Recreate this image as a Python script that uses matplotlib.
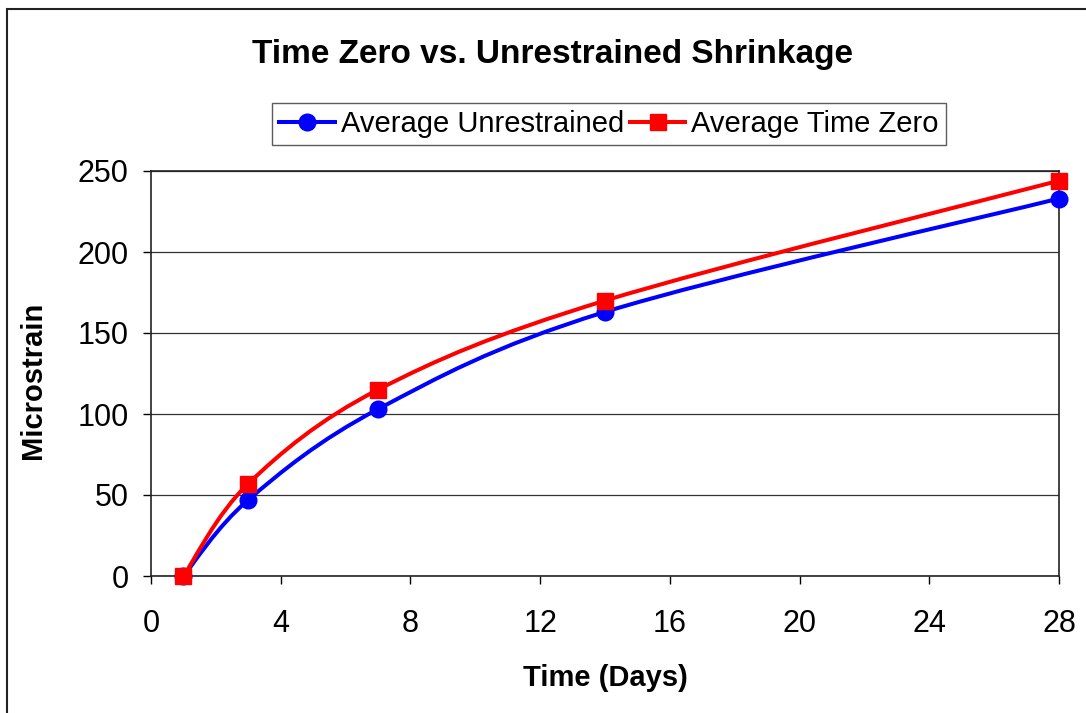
import numpy as np
import matplotlib.pyplot as plt
from matplotlib.path import Path
from matplotlib.patches import PathPatch, Rectangle
from matplotlib.lines import Line2D

plt.rcParams['font.family'] = ['Liberation Sans', 'DejaVu Sans']

##DATA##########################################################################
days = [1, 3, 7, 14, 28]
unrestrained = [0, 47, 103, 163, 233]
time_zero = [0, 57, 115, 170, 244]
xticks = [0, 4, 8, 12, 16, 20, 24, 28]
yticks = [0, 50, 100, 150, 200, 250]
################################################################################


def smooth_path(x, y):
    # excel style smoothed line: bezier segments through the points
    p = np.column_stack([x, y]).astype(float)
    n = len(p)
    verts = [p[0]]
    codes = [Path.MOVETO]
    for i in range(n - 1):
        p0 = p[i - 1] if i > 0 else p[i]
        p3 = p[i + 2] if i + 2 < n else p[i + 1]
        c1 = p[i] + (p[i + 1] - p0) / 6.0
        c2 = p[i + 1] - (p3 - p[i]) / 6.0
        verts += [c1, c2, p[i + 1]]
        codes += [Path.CURVE4] * 3
    return Path(verts, codes)


fig = plt.figure(figsize=(10.86, 7.13), dpi=100)
fig.patches.append(Rectangle((7 / 1086, -0.1), 1.2, 1 - 9 / 713 + 0.1,
                             transform=fig.transFigure, fill=False,
                             edgecolor='#222222', linewidth=1.5))

ax = fig.add_axes([151 / 1086, 137 / 713, 908 / 1086, 405 / 713])

series = [
    (unrestrained, 'blue', 'o', 12, 'Average Unrestrained'),
    (time_zero, 'red', 's', 12, 'Average Time Zero'),
]
handles = []
for vals, col, mk, ms, name in series:
    ax.add_patch(PathPatch(smooth_path(days, vals), facecolor='none',
                           edgecolor=col, linewidth=2.9, zorder=3))
    ax.plot(days, vals, linestyle='none', marker=mk, markersize=ms,
            color=col, zorder=4, clip_on=False)
    handles.append(Line2D([], [], color=col, linewidth=2.9, marker=mk,
                          markersize=ms, label=name))

ax.set_xlim(0, 28)
ax.set_ylim(0, 250)
ax.set_xticks(xticks)
ax.set_yticks(yticks)
ax.grid(axis='y', color='#333333', linewidth=0.9)
ax.set_axisbelow(True)
for s in ax.spines.values():
    s.set_color('#222222')
    s.set_linewidth(1.2)
ax.tick_params(axis='both', direction='out', length=6, width=1, labelsize=22)
ax.tick_params(axis='x', pad=18)
ax.tick_params(axis='y', pad=10)

ax.set_xlabel('Time (Days)', fontsize=21, fontweight='bold')
ax.set_ylabel('Microstrain', fontsize=21, fontweight='bold')
ax.xaxis.set_label_coords(0.501, -0.217)
ax.yaxis.set_label_coords(-0.1145, 0.484)

fig.text(553 / 1086, 1 - 55 / 713, 'Time Zero vs. Unrestrained Shrinkage',
         ha='center', va='center', fontsize=24, fontweight='bold')

leg = fig.legend(handles=handles, loc='center', bbox_to_anchor=(609 / 1086, 1 - 124 / 713),
                 ncol=2, fontsize=21, frameon=True, fancybox=False,
                 edgecolor='#333333', handlelength=1.9, handletextpad=0.2,
                 columnspacing=0.2, borderpad=0.25, borderaxespad=0)
leg.get_frame().set_linewidth(1.0)

fig.savefig('out.png', dpi=100)
